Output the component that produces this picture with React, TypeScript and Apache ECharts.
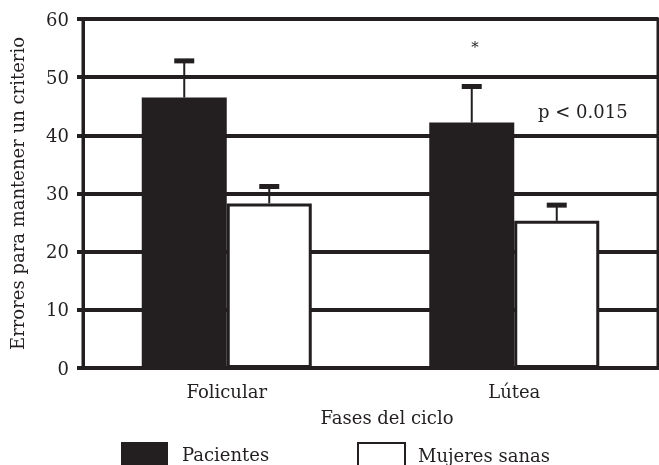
import React, { useEffect, useRef } from "react";
import * as echarts from "echarts";

const categories = ["Folicular", "Lútea"];
const pacientes = [46.5, 42.2];
const pacientesErr = [52.8, 48.4];
const sanas = [28.3, 25.3];
const sanasErr = [31.2, 28.0];
const yTicks = { min: 0, max: 60, interval: 10 };

const INK = "#231f20";
const FONT = "DejaVu Serif";
const FS = 18;

export default function App() {
  const ref = useRef<HTMLDivElement>(null);
  useEffect(() => {
    if (!ref.current) return;
    const chart = echarts.init(ref.current, null, { renderer: "svg" });
    const barW = 85;
    const errRender = (offset: number) => (params: any, api: any) => {
      const c = api.value(0);
      const base = api.coord([c, api.value(1)]);
      const top = api.coord([c, api.value(2)]);
      const x = base[0] + offset;
      return {
        type: "group",
        children: [
          { type: "line", shape: { x1: x, y1: base[1], x2: x, y2: top[1] }, style: { stroke: INK, lineWidth: 2 } },
          { type: "rect", shape: { x: x - 10, y: top[1] - 2.5, width: 20, height: 5 }, style: { fill: INK } },
        ],
      };
    };
    chart.setOption({
      animation: false,
      grid: { left: 83, right: 1, top: 19, bottom: 97, show: true, borderColor: INK, borderWidth: 3, backgroundColor: "transparent" },
      xAxis: {
        type: "category",
        data: categories,
        axisLine: { lineStyle: { color: INK, width: 4 } },
        axisTick: { show: false },
        axisLabel: { color: INK, fontFamily: FONT, fontSize: FS, margin: 14 },
      },
      yAxis: {
        type: "value",
        min: yTicks.min,
        max: yTicks.max,
        interval: yTicks.interval,
        name: "Errores para mantener un criterio",
        nameLocation: "middle",
        nameGap: 57,
        nameTextStyle: { color: INK, fontFamily: FONT, fontSize: FS },
        axisLine: { show: true, lineStyle: { color: INK, width: 3 } },
        axisTick: { show: true, length: 6, lineStyle: { color: INK, width: 4 } },
        axisLabel: { color: INK, fontFamily: FONT, fontSize: FS, margin: 14 },
        splitLine: { show: true, lineStyle: { color: INK, width: 4 } },
      },
      legend: [
        {
          data: ["Pacientes"],
          left: 121,
          top: 442,
          padding: 0,
          icon: "rect",
          itemWidth: 47,
          itemHeight: 24,
          textStyle: { color: INK, fontFamily: FONT, fontSize: FS, padding: [0, 0, 0, 9] },
        },
        {
          data: ["Mujeres sanas"],
          left: 357,
          top: 442,
          padding: 0,
          icon: "rect",
          itemWidth: 47,
          itemHeight: 24,
          textStyle: { color: INK, fontFamily: FONT, fontSize: FS, padding: [0, 0, 0, 8] },
        },
      ],
      graphic: [
        { type: "text", x: 387, y: 417, style: { text: "Fases del ciclo", fill: INK, font: `${FS}px "${FONT}"`, textAlign: "center", textVerticalAlign: "middle" } },
        { type: "text", x: 475, y: 47, style: { text: "*", fill: INK, font: `15px "${FONT}"`, textAlign: "center", textVerticalAlign: "middle" } },
        { type: "text", x: 538, y: 111, style: { text: "p < 0.015", fill: INK, font: `${FS}px "${FONT}"`, textAlign: "left", textVerticalAlign: "middle" } },
      ],
      series: [
        {
          name: "Pacientes",
          type: "bar",
          data: pacientes,
          barWidth: barW,
          barGap: "0%",
          itemStyle: { color: INK },
          z: 3,
        },
        {
          name: "Mujeres sanas",
          type: "bar",
          data: sanas,
          barWidth: barW,
          barGap: "0%",
          itemStyle: { color: "#ffffff", borderColor: INK, borderWidth: 3 },
          z: 3,
        },
        {
          type: "custom",
          renderItem: errRender(-barW / 2),
          data: categories.map((_, i) => [i, pacientes[i], pacientesErr[i]]),
          z: 4,
          silent: true,
        },
        {
          type: "custom",
          renderItem: errRender(barW / 2),
          data: categories.map((_, i) => [i, sanas[i], sanasErr[i]]),
          z: 4,
          silent: true,
        },
      ],
    });
    return () => chart.dispose();
  }, []);
  return <div ref={ref} style={{ position: "fixed", left: 0, top: 0, width: 659, height: 465 }} />;
}
